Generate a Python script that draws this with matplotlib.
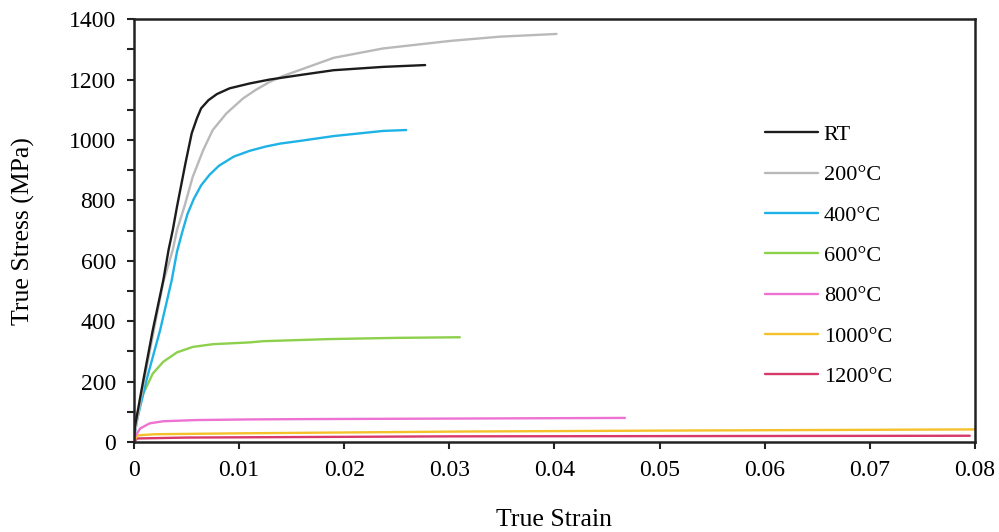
import matplotlib
matplotlib.use("Agg")
import matplotlib.pyplot as plt
from matplotlib.ticker import MultipleLocator

plt.rcParams["font.family"] = ["Liberation Serif", "DejaVu Serif"]

labels = ["RT", "200°C", "400°C", "600°C", "800°C", "1000°C", "1200°C"]
colors = ["#1c1c1c", "#b9b9b9", "#1eb2e6", "#8cd04c", "#ee72d2", "#f5c12b", "#d8396b"]

rt_x = [0, 0.0001, 0.0009, 0.0018, 0.0028, 0.0033, 0.0037, 0.0041, 0.0049, 0.0055,
        0.006, 0.0064, 0.0071, 0.0079, 0.0091, 0.011, 0.0129, 0.0158, 0.019, 0.0237, 0.0277]
rt_y = [10, 51, 205, 371, 536, 636, 702, 779, 922, 1022,
        1072, 1105, 1132, 1152, 1171, 1187, 1200, 1215, 1231, 1242, 1248]

t200_x = [0, 0.0009, 0.0019, 0.0028, 0.0037, 0.0041, 0.0048, 0.0056, 0.0066, 0.0075,
          0.0088, 0.0104, 0.0116, 0.0129, 0.0142, 0.0158, 0.019, 0.0237, 0.0301, 0.0348, 0.0402]
t200_y = [10, 190, 371, 530, 636, 702, 779, 878, 967, 1033,
          1088, 1138, 1166, 1192, 1212, 1232, 1272, 1303, 1328, 1342, 1351]

t400_x = [0, 0.0003, 0.0012, 0.0025, 0.0036, 0.0041, 0.0046, 0.0051, 0.0057, 0.0064,
          0.0072, 0.0081, 0.0095, 0.011, 0.0125, 0.0139, 0.0158, 0.019, 0.0237, 0.0259]
t400_y = [10, 73, 205, 371, 536, 630, 695, 755, 805, 850,
          885, 915, 945, 964, 978, 988, 997, 1013, 1030, 1033]

t600_x = [0, 0.00025, 0.0009, 0.0018, 0.0028, 0.0041, 0.0056, 0.0075, 0.011, 0.0123,
          0.0186, 0.025, 0.031]
t600_y = [5, 84, 161, 227, 266, 297, 315, 324, 330, 334,
          341, 345, 347]

t800_x = [0, 0.0001, 0.0006, 0.0015, 0.0028, 0.006, 0.011, 0.0155, 0.0313, 0.0467]
t800_y = [3, 18, 45, 62, 69, 73, 75, 76, 78, 80]

t1000_x = [0, 0.0003, 0.002, 0.01, 0.0313, 0.05, 0.08]
t1000_y = [0, 22, 26, 29, 35, 38, 42]

t1200_x = [0, 0.0003, 0.005, 0.03, 0.0795]
t1200_y = [0, 12, 15, 19, 21]

series = [(rt_x, rt_y), (t200_x, t200_y), (t400_x, t400_y), (t600_x, t600_y),
          (t800_x, t800_y), (t1000_x, t1000_y), (t1200_x, t1200_y)]

fig = plt.figure(figsize=(9.99, 5.32), dpi=100)
ax = fig.add_axes([0.134, 0.169, 0.842, 0.795])

# draw the low-temperature curves last so they sit on top
order = [6, 5, 4, 3, 2, 1, 0]
for i in order:
    x, y = series[i]
    ax.plot(x, y, color=colors[i], linewidth=1.7, label=labels[i],
            solid_joinstyle="round", solid_capstyle="round")

ax.set_xlim(0, 0.08)
ax.set_ylim(0, 1400)
ax.set_xticks([0, 0.01, 0.02, 0.03, 0.04, 0.05, 0.06, 0.07, 0.08])
ax.set_xticklabels(["0", "0.01", "0.02", "0.03", "0.04", "0.05", "0.06", "0.07", "0.08"])
ax.yaxis.set_major_locator(MultipleLocator(200))
ax.yaxis.set_minor_locator(MultipleLocator(100))

ax.tick_params(axis="both", which="both", direction="out", width=1.5, labelsize=17, color="#222222")
ax.tick_params(axis="both", which="major", length=5)
ax.tick_params(axis="y", which="minor", length=5)
ax.tick_params(axis="y", pad=8)
ax.tick_params(axis="x", pad=8)
for s in ax.spines.values():
    s.set_linewidth(1.8)
    s.set_color("#222222")

ax.set_xlabel("True Strain", fontsize=18.5, labelpad=20)
ax.set_ylabel("True Stress (MPa)", fontsize=18.5, labelpad=24)

handles, labs = ax.get_legend_handles_labels()
idx = [labs.index(l) for l in labels]
ax.legend([handles[i] for i in idx], [labs[i] for i in idx],
          loc="upper left", bbox_to_anchor=(0.7265, 0.798), frameon=False, fontsize=16,
          handlelength=2.4, labelspacing=0.89, handletextpad=0.25)

fig.savefig("out.png", dpi=100)
